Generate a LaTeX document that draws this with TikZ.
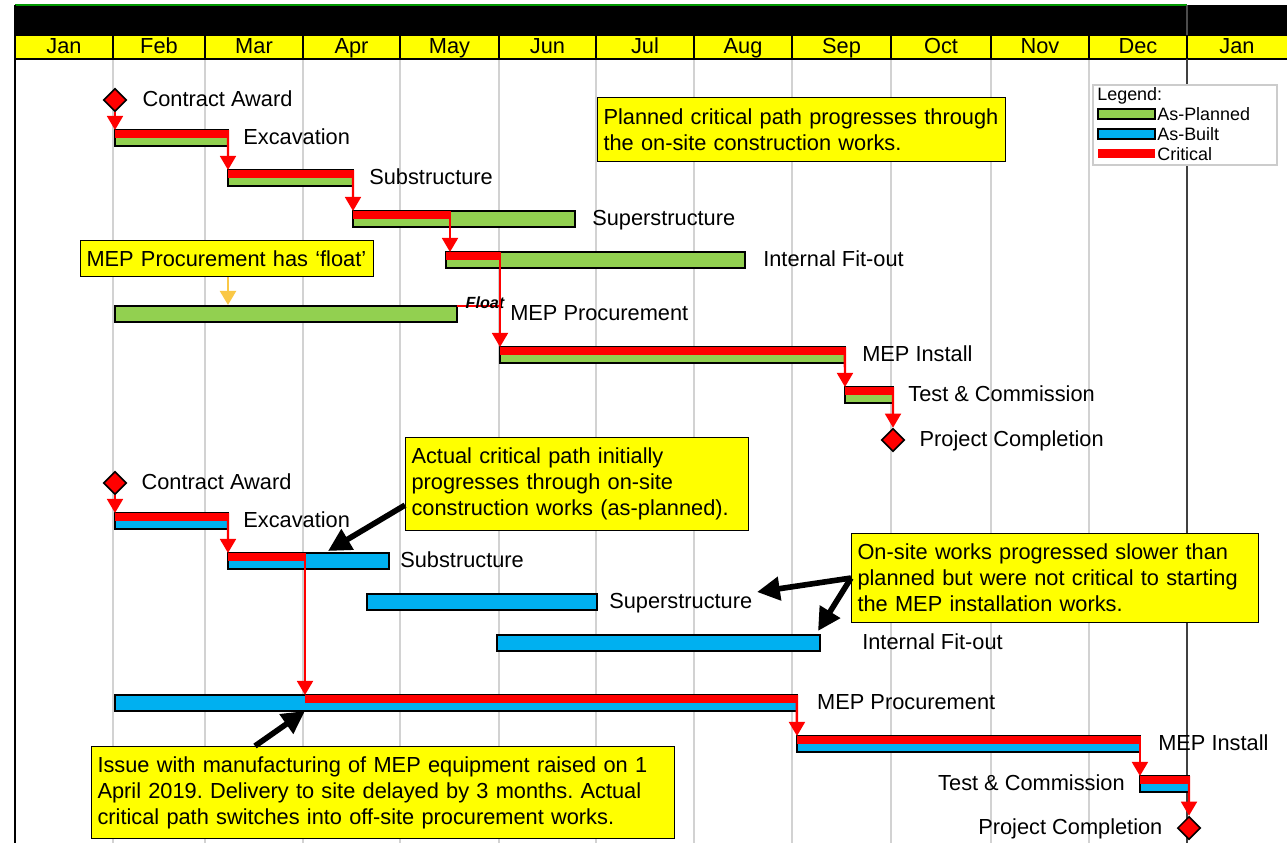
\documentclass[tikz,border=0pt]{standalone}
\usepackage{fontspec}
\setmainfont{Liberation Sans}
\usepackage{tikz}
\usetikzlibrary{arrows.meta, positioning, shapes.geometric}
\definecolor{planGreen}{RGB}{146,208,80}
\definecolor{builtBlue}{RGB}{0,176,240}
\definecolor{noteYellow}{RGB}{255,255,0}
\definecolor{gridGray}{RGB}{210,210,210}
\definecolor{floatGold}{RGB}{250,200,70}
\newcommand{\chartFont}{\fontsize{12.4}{14.8}\selectfont\frenchspacing}
\newcommand{\legendFont}{\fontsize{10.2}{12}\selectfont}

\tikzset{
  month/.style={font=\chartFont, inner sep=0pt, text height=1.6ex, text depth=0.25ex},
  lbl/.style={font=\chartFont, inner sep=0pt, text height=1.6ex, text depth=0.25ex},
  legendText/.style={font=\legendFont, inner sep=0pt, anchor=west},
  taskbar/.style={draw=black, line width=0.9pt, minimum height=0.32cm, inner sep=0pt, outer sep=0pt, anchor=north west},
  planbar/.style={taskbar, fill=planGreen},
  builtbar/.style={taskbar, fill=builtBlue},
  milestone/.style={diamond, draw=black, line width=0.9pt, fill=red, minimum width=0.46cm, minimum height=0.46cm, inner sep=0pt},
  crit/.style={red, line width=1.4pt, -{Triangle[length=8pt,width=9pt]}},
  note/.style={draw=black, line width=0.6pt, fill=noteYellow, anchor=north west, align=left, inner xsep=0.12cm, inner ysep=0pt, font=\chartFont},
  pointer/.style={black, line width=3.2pt, -{Triangle[length=13pt,width=13pt]}}
}

\begin{document}
\begin{tikzpicture}[x=0.02cm, y=-0.02cm]
\useasboundingbox (0,0) rectangle (1287,843);
\fill[white] (0,0) rectangle (1287,843);

% header: black band and yellow month row
\fill[black] (15,5) rectangle (1287,35);
\draw[green!60!black, line width=0.8pt] (15,5) -- (1187,5);
\fill[noteYellow] (15,35) rectangle (1287,59);
\foreach \x in {113,205,303,400,499,596,694,792,891,991,1089}
  \draw[gridGray, line width=0.8pt] (\x,59) -- (\x,843);
\foreach \x in {113,205,303,400,499,596,694,792,891,991,1089,1187}
  \draw[black, line width=1pt] (\x,35) -- (\x,59);
\draw[black, line width=1pt] (15,35) -- (1287,35);
\draw[black, line width=1.4pt] (15,59) -- (1287,59);
\draw[black, line width=1.2pt] (15,5) -- (15,843);
\draw[black!70, line width=1.2pt] (1187,5) -- (1187,35);
\draw[black!75, line width=1.2pt] (1187,59) -- (1187,843);
\foreach \a/\b/\m [count=\i] in {15/113/Jan, 113/205/Feb, 205/303/Mar, 303/400/Apr,
    400/499/May, 499/596/Jun, 596/694/Jul, 694/792/Aug, 792/891/Sep,
    891/991/Oct, 991/1089/Nov, 1089/1187/Dec, 1187/1287/Jan}
  \node[month] (mon\i) at ({(\a+\b)/2},47) {\m};

% legend
\draw[gray!40, fill=white, line width=0.8pt] (1093,85) rectangle (1277,165);
\node[legendText] (legTitle) at (1097,96) {Legend:};
\draw[black, fill=planGreen, line width=0.8pt] (1098,109) rectangle (1155,119);
\node[legendText] (legPlan) at (1157,114) {As-Planned};
\draw[black, fill=builtBlue, line width=0.8pt] (1098,129) rectangle (1155,139);
\node[legendText] (legBuilt) at (1157,134) {As-Built};
\fill[red] (1098,149) rectangle (1155,158);
\node[legendText] (legCrit) at (1157,154) {Critical};

% as-planned programme
\node[milestone] (pAward) at (115,100) {};
\node[lbl, right=0.3cm of pAward] (pAwardLbl) {Contract Award};
\node[planbar, minimum width=2.26cm] (pExc) at (115,130) {};
\fill[red] (pExc.north west) rectangle (pExc.east);
\node[lbl, right=0.3cm of pExc] (pExcLbl) {Excavation};
\node[planbar, minimum width=2.5cm] (pSub) at (228,170) {};
\fill[red] (pSub.north west) rectangle (pSub.east);
\node[lbl, right=0.32cm of pSub] (pSubLbl) {Substructure};
\node[planbar, minimum width=4.44cm] (pSup) at (353,211) {};
\fill[red] (pSup.north west) rectangle (450,219);
\node[lbl, right=0.34cm of pSup] (pSupLbl) {Superstructure};
\node[planbar, minimum width=5.98cm] (pFit) at (446,252) {};
\fill[red] (pFit.north west) rectangle (500,260);
\node[lbl, right=0.36cm of pFit] (pFitLbl) {Internal Fit-out};
\node[planbar, minimum width=6.84cm] (pProc) at (115,306) {};
\node[lbl, right=1.06cm of pProc] (pProcLbl) {MEP Procurement};
\node[planbar, minimum width=6.9cm] (pInst) at (500,347) {};
\fill[red] (pInst.north west) rectangle (pInst.east);
\node[lbl, right=0.34cm of pInst] (pInstLbl) {MEP Install};
\node[planbar, minimum width=0.96cm] (pTest) at (845,387) {};
\fill[red] (pTest.north west) rectangle (pTest.east);
\node[lbl, right=0.3cm of pTest] (pTestLbl) {Test \& Commission};
\node[milestone] (pDone) at (893,440) {};
\node[lbl, right=0.28cm of pDone] (pDoneLbl) {Project Completion};

% float on procurement
\draw[red, line width=1pt] (pProc.north east) -- (500,306);
\node[font=\bfseries\itshape\fontsize{9.2}{10}\selectfont, inner sep=0pt, anchor=south] (pFloat) at (485,309) {Float};

\coordinate (pSupCrit) at (450,211);
\coordinate (pFitCrit) at (500,252);
\draw[crit] (pAward.south) -- (pExc.north west);
\draw[crit] (pExc.north east) -- (pSub.north west);
\draw[crit] (pSub.north east) -- (pSup.north west);
\draw[crit] (pSupCrit) -- (pSupCrit |- pFit.north);
\draw[crit] (pFitCrit) -- (pInst.north west);
\draw[crit] (pInst.north east) -- (pTest.north west);
\draw[crit] (pTest.north east) -- (pDone.north);

% as-built programme
\node[milestone] (bAward) at (115,483) {};
\node[lbl, right=0.28cm of bAward] (bAwardLbl) {Contract Award};
\node[builtbar, minimum width=2.26cm] (bExc) at (115,513) {};
\fill[red] (bExc.north west) rectangle (bExc.east);
\node[lbl, right=0.3cm of bExc] (bExcLbl) {Excavation};
\node[builtbar, minimum width=3.22cm] (bSub) at (228,553) {};
\fill[red] (bSub.north west) rectangle (305,561);
\node[lbl, right=0.22cm of bSub] (bSubLbl) {Substructure};
\node[builtbar, minimum width=4.6cm] (bSup) at (367,594) {};
\node[lbl, right=0.24cm of bSup] (bSupLbl) {Superstructure};
\node[builtbar, minimum width=6.46cm] (bFit) at (497,635) {};
\node[lbl, right=0.84cm of bFit] (bFitLbl) {Internal Fit-out};
\node[builtbar, minimum width=13.64cm] (bProc) at (115,695) {};
\coordinate (bSubCrit) at (305,553);
\fill[red] (bSubCrit |- bProc.north) rectangle (bProc.east);
\node[lbl, right=0.4cm of bProc] (bProcLbl) {MEP Procurement};
\node[builtbar, minimum width=6.86cm] (bInst) at (797,736) {};
\fill[red] (bInst.north west) rectangle (bInst.east);
\node[lbl, right=0.36cm of bInst] (bInstLbl) {MEP Install};
\node[builtbar, minimum width=0.98cm] (bTest) at (1140,776) {};
\fill[red] (bTest.north west) rectangle (bTest.east);
\node[lbl, left=0.3cm of bTest] (bTestLbl) {Test \& Commission};
\node[milestone] (bDone) at (1189,828) {};
\node[lbl, left=0.28cm of bDone] (bDoneLbl) {Project Completion};

\draw[crit] (bAward.south) -- (bExc.north west);
\draw[crit] (bExc.north east) -- (bSub.north west);
\draw[crit] (bSubCrit) -- (bSubCrit |- bProc.north);
\draw[crit] (bProc.north east) -- (bInst.north west);
\draw[crit] (bInst.north east) -- (bInst.north east |- bTest.north);
\draw[crit] (bTest.north east) -- (bDone.north);

% notes
\node[note, text width=7.92cm, minimum height=1.28cm] (notePlan) at (597,97)
  {Planned critical path progresses through\\the on-site construction works.};
\node[note, text width=5.62cm, minimum height=0.72cm] (noteFloat) at (80,240)
  {MEP Procurement has ‘float’};
\coordinate (floatTip) at (228,305);
\draw[floatGold, line width=1.6pt, -{Triangle[length=8pt,width=9pt]}] (floatTip |- noteFloat.south) -- (floatTip);
\node[note, text width=6.62cm, minimum height=1.86cm] (noteActual) at (405,437)
  {Actual critical path initially\\progresses through on-site\\construction works (as-planned).};
\node[note, text width=7.9cm, minimum height=1.78cm] (noteOnsite) at (851,533)
  {On-site works progressed slower than\\planned but were not critical to starting\\the MEP installation works.};
\node[note, text width=11.42cm, minimum height=1.84cm] (noteIssue) at (91,746)
  {Issue with manufacturing of MEP equipment raised on 1\\April 2019. Delivery to site delayed by 3 months. Actual\\critical path switches into off-site procurement works.};

\coordinate (bSubHit) at (328,551);
\coordinate (bSupHit) at (757,592);
\coordinate (bFitHit) at (818,631);
\draw[pointer] (noteActual.187) -- (bSubHit);
\draw[pointer] (noteOnsite.west) -- (bSupHit);
\draw[pointer] (noteOnsite.west) -- (bFitHit);
\draw[pointer] ([xshift=3.28cm]noteIssue.north west) -- ([xshift=3.8cm]bProc.south west);
\end{tikzpicture}
\end{document}
